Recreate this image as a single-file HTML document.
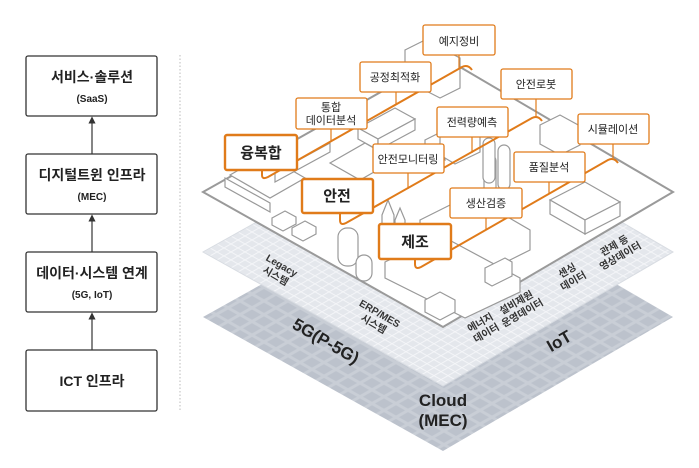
<!DOCTYPE html>
<html><head><meta charset="utf-8"><style>
html,body{margin:0;padding:0;background:#fff;}
body{width:699px;height:468px;overflow:hidden;position:relative;font-family:"Liberation Sans","Noto Sans CJK KR",sans-serif;}
svg{position:absolute;left:0;top:0;}
</style></head><body>
<svg width="699" height="468" viewBox="0 0 699 468" font-family="'Liberation Sans','Noto Sans CJK KR',sans-serif">
<defs>
<pattern id="g1" width="12" height="12" patternUnits="userSpaceOnUse" patternTransform="matrix(1,0.57,-1,0.57,0,0)">
<rect width="12" height="12" fill="#c9ced6"/><rect x="1.5" y="1.5" width="9" height="9" fill="#bcc2cc"/></pattern>
<pattern id="g2" width="7" height="7" patternUnits="userSpaceOnUse" patternTransform="matrix(1,0.57,-1,0.57,0,0)">
<rect width="7" height="7" fill="#f4f5f8"/><rect x="1" y="1" width="6" height="6" fill="#e4e7ec"/></pattern>
<marker id="ar" markerWidth="6" markerHeight="6" refX="3" refY="3" orient="auto"><path d="M0,0L6,3L0,6z" fill="#333"/></marker>
</defs>

<g fill="#fff" stroke="#333" stroke-width="1.3">
<rect x="26" y="56" width="131" height="60" rx="2"/>
<rect x="26" y="154" width="131" height="60" rx="2"/>
<rect x="26" y="252" width="131" height="60" rx="2"/>
<rect x="26" y="350" width="131" height="61" rx="2"/>
</g>
<g stroke="#333" stroke-width="1.2">
<line x1="92" y1="154" x2="92" y2="120" marker-end="url(#ar)"/>
<line x1="92" y1="252" x2="92" y2="218" marker-end="url(#ar)"/>
<line x1="92" y1="350" x2="92" y2="316" marker-end="url(#ar)"/>
</g>
<g text-anchor="middle" fill="#222" font-weight="bold">
<text x="92" y="82" font-size="14">서비스·솔루션</text><text x="92" y="102" font-size="10">(SaaS)</text>
<text x="92" y="180" font-size="14">디지털트윈 인프라</text><text x="92" y="200" font-size="10">(MEC)</text>
<text x="92" y="278" font-size="14">데이터·시스템 연계</text><text x="92" y="298" font-size="10">(5G, IoT)</text>
<text x="92" y="386" font-size="14">ICT 인프라</text>
</g>
<line x1="180" y1="55" x2="180" y2="412" stroke="#bbb" stroke-dasharray="1.5,2"/>

<polygon points="443,183 673,317 443,451 203,317" fill="url(#g1)"/>
<polygon points="443,118 673,252 443,386 203,252" fill="url(#g2)" stroke="#d8dce2"/>
<polygon points="443,57 673,192 443,327 203,192" fill="#fff" stroke="#9a9a9a" stroke-width="2"/>

<g fill="#333" font-weight="bold" font-size="10" text-anchor="middle">
<g transform="translate(278,272) rotate(30)"><text y="-4">Legacy</text><text y="8">시스템</text></g>
<g transform="translate(376,320) rotate(30)"><text y="-4">ERP/MES</text><text y="8">시스템</text></g>
<g transform="translate(484,329) rotate(-30)"><text y="-4">에너지</text><text y="8">데이터</text></g>
<g transform="translate(520,309) rotate(-30)"><text y="-4">설비제원</text><text y="8">운영데이터</text></g>
<g transform="translate(571,277) rotate(-30)"><text y="-4">센싱</text><text y="8">데이터</text></g>
<g transform="translate(618,252) rotate(-30)"><text y="-4">관제 등</text><text y="8">영상데이터</text></g>
</g>
<g fill="#222" font-weight="bold" text-anchor="middle">
<text transform="translate(323,346) rotate(30)" font-size="17">5G(P-5G)</text>
<text transform="translate(562,346) rotate(-30)" font-size="17">IoT</text>
<text x="443" y="406" font-size="17">Cloud</text>
<text x="443" y="426" font-size="17">(MEC)</text>
</g>

<g fill="#fff" stroke="#999" stroke-width="1.2">
<polygon points="405,50 425,40 460,58 460,88 440,98 405,80"/>
<polygon points="330,163 365,143 395,160 360,180"/>
<polygon points="230,175 265,155 305,178 270,198"/>
<polygon points="225,178 270,203 270,212 225,187"/>
<polygon points="275,173 330,143 330,152 275,182"/>
<polygon points="358,128 395,108 415,119 378,139"/>
<polygon points="358,128 378,139 378,150 358,139"/>
<polygon points="378,139 415,119 415,130 378,150"/>
<polygon points="425,140 445,130 445,160 425,150"/>
<polygon points="440,120 465,108 480,117 480,152 455,164 440,155"/>
<rect x="484" y="155" width="12" height="45" rx="6"/>
<rect x="498" y="145" width="12" height="45" rx="6"/>
<rect x="483" y="138" width="12" height="45" rx="6"/>
<polygon points="540,125 560,115 580,126 580,145 560,155 540,144"/>
<polygon points="420,220 470,195 530,230 530,250 480,275 420,240"/>
<polygon points="385,262 440,235 520,278 520,292 465,318 385,278"/>
<polygon points="550,200 585,182 620,202 585,220"/>
<polygon points="550,200 585,220 585,234 550,214"/>
<polygon points="585,220 620,202 620,216 585,234"/>
<rect x="338" y="228" width="20" height="38" rx="9"/>
<rect x="356" y="255" width="16" height="26" rx="8"/>
<polygon points="272,218 285,211 296,217 296,224 283,231 272,225"/>
<polygon points="292,228 305,221 316,227 316,234 303,241 292,235"/>
<polygon points="485,268 505,258 512,262 512,276 492,286 485,282"/>
<polygon points="425,300 440,292 455,300 455,312 440,320 425,312"/>
<polygon points="382,215 388,200 394,215 394,225 382,225"/>
<polygon points="395,220 400,208 405,220 405,228 395,228"/>
</g>

<g fill="none" stroke="#e07b1a" stroke-width="2">
<path d="M262,170 L262,175 Q262,180 268,177 L462,67 Q468,64 472,70"/>
<path d="M340,213 L340,220 Q340,226 346,223 L532,118 Q538,115 542,121"/>
<path d="M415,259 L415,264 Q415,270 421,267 L608,160 Q614,157 618,163"/>
</g>
<g stroke="#e07b1a" stroke-width="1.2">
<line x1="331" y1="129" x2="331" y2="141"/><line x1="396" y1="92" x2="396" y2="104"/><line x1="459" y1="55" x2="459" y2="69"/>
<line x1="408" y1="173" x2="408" y2="189"/><line x1="472" y1="137" x2="472" y2="153"/><line x1="536" y1="99" x2="536" y2="117"/>
<line x1="486" y1="218" x2="486" y2="230"/><line x1="549" y1="182" x2="549" y2="194"/><line x1="613" y1="144" x2="613" y2="158"/>
</g>

<g fill="#fff" stroke="#e07b1a" stroke-width="1.3">
<rect x="423" y="25" width="72" height="30" rx="2"/>
<rect x="360" y="62" width="71" height="30" rx="2"/>
<rect x="296" y="98" width="71" height="31" rx="2"/>
<rect x="501" y="69" width="71" height="30" rx="2"/>
<rect x="437" y="107" width="71" height="30" rx="2"/>
<rect x="373" y="144" width="71" height="29" rx="2"/>
<rect x="578" y="114" width="71" height="30" rx="2"/>
<rect x="514" y="152" width="71" height="30" rx="2"/>
<rect x="450" y="188" width="72" height="30" rx="2"/>
</g>
<g fill="#fff" stroke="#e07b1a" stroke-width="2.4">
<rect x="225" y="135" width="72" height="35" rx="2"/>
<rect x="302" y="179" width="71" height="34" rx="2"/>
<rect x="379" y="224" width="72" height="35" rx="2"/>
</g>
<g text-anchor="middle" fill="#222" font-size="11">
<text x="459" y="45">예지정비</text>
<text x="395" y="81">공정최적화</text>
<text x="331" y="111">통합</text><text x="331" y="124">데이터분석</text>
<text x="536" y="88">안전로봇</text>
<text x="472" y="126">전력량예측</text>
<text x="408" y="163">안전모니터링</text>
<text x="613" y="133">시뮬레이션</text>
<text x="549" y="171">품질분석</text>
<text x="486" y="207">생산검증</text>
</g>
<g text-anchor="middle" fill="#222" font-size="15" font-weight="bold">
<text x="261" y="158">융복합</text>
<text x="337" y="201">안전</text>
<text x="415" y="247">제조</text>
</g>
</svg>
</body></html>
